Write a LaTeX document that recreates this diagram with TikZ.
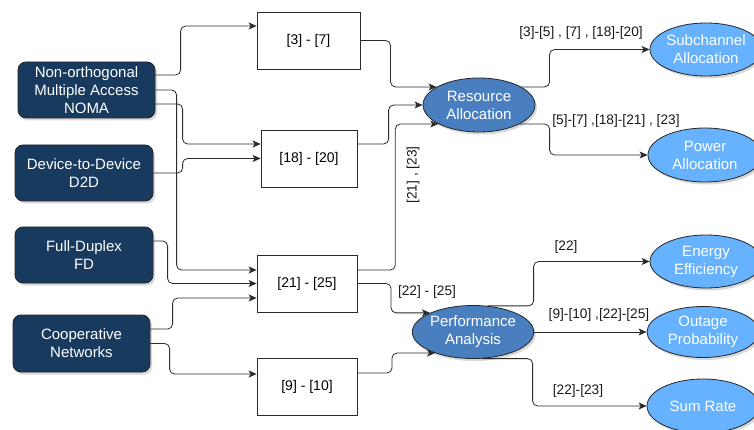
\documentclass[tikz,border=0pt]{standalone}
\usepackage{fontspec}
\setmainfont{Liberation Sans}
\usetikzlibrary{shapes.geometric,arrows.meta,shadows}
\definecolor{navy}{HTML}{173A5E}
\definecolor{midblue}{HTML}{4A7FBF}
\definecolor{lightblue}{HTML}{66B2FF}
\definecolor{linec}{HTML}{2B2B2B}
\begin{document}
\begin{tikzpicture}[x=1pt,y=-1pt,
  darkbox/.style={rectangle, rounded corners=8pt, fill=navy, draw=black!85, line width=0.8pt,
    text=white, align=center, font=\fontsize{15}{18}\selectfont,
    minimum width=137pt, minimum height=56pt, inner sep=0pt,
    drop shadow={shadow xshift=2pt, shadow yshift=-2.5pt, opacity=0.3}},
  refbox/.style={rectangle, draw=linec, line width=0.8pt, fill=white,
    minimum height=57pt, font=\fontsize{14}{17}\selectfont, inner sep=0pt},
  mainell/.style={ellipse, fill=midblue, draw=black!85, line width=0.8pt, text=white,
    align=center, font=\fontsize{15}{18}\selectfont, inner sep=0pt,
    drop shadow={shadow xshift=2pt, shadow yshift=-2.5pt, opacity=0.3}},
  resell/.style={ellipse, fill=lightblue, draw=black!85, line width=0.8pt, text=white,
    align=center, font=\fontsize{15}{18}\selectfont, inner sep=0pt,
    minimum width=112pt, minimum height=53pt,
    drop shadow={shadow xshift=2pt, shadow yshift=-2.5pt, opacity=0.3}},
  arr/.style={draw=linec, line width=0.8pt, rounded corners=5pt, -{Stealth[length=8pt,width=7pt,inset=2pt]}},
  lbl/.style={font=\fontsize{13.7}{16}\selectfont, text=black!90, inner sep=0pt}
]
\useasboundingbox (0,0) rectangle (754,430);
\fill[white] (0,0) rectangle (754,430);

% left technologies
\node[darkbox, minimum width=137pt] (noma) at (86.5,90) {Non-orthogonal\\Multiple Access\\NOMA};
\node[darkbox, minimum width=138pt] (d2d) at (84,173) {Device-to-Device\\D2D};
\node[darkbox, minimum width=138pt] (fd) at (84,255) {Full-Duplex\\FD};
\node[darkbox, minimum width=137pt, minimum height=57pt] (coop) at (81.5,343.5) {Cooperative\\Networks};

% reference boxes
\node[refbox, minimum width=103pt] (r37) at (308.5,40.5) {[3] - [7]};
\node[refbox, minimum width=96pt] (r1820) at (309,158.5) {[18] - [20]};
\node[refbox, minimum width=100pt] (r2125) at (307,283.5) {[21] - [25]};
\node[refbox, minimum width=100pt] (r910) at (307,386.5) {[9] - [10]};

% middle ellipses
\node[mainell, minimum width=112pt, minimum height=54pt] (ra) at (479,105) {Resource\\Allocation};
\node[mainell, minimum width=110pt, minimum height=53pt] (pa) at (473,332) {Performance\\Analysis};

% right ellipses
\node[resell] (sa) at (706,49.5) {Subchannel\\Allocation};
\node[resell, minimum width=114pt, minimum height=54pt] (pw) at (705,155) {Power\\Allocation};
\node[resell] (ee) at (706,261.5) {Energy\\Efficiency};
\node[resell, minimum height=51pt] (op) at (703,332) {Outage\\Probability};
\node[resell, minimum height=54pt] (sr) at (703,406) {Sum Rate};

% connectors: technologies -> reference boxes
\draw[arr] ([yshift=15pt]noma.east) -| ([xshift=-76pt,yshift=14.5pt]r37.west) -- ([yshift=14.5pt]r37.west);
\draw[arr] ([yshift=-14pt]noma.east) -| ([xshift=-78pt,yshift=14.5pt]r1820.west) -- ([yshift=14.5pt]r1820.west);
\draw[arr] (d2d.east) -| ([xshift=-78pt]r1820.west) -- (r1820.west);
\draw[arr] (noma.east) -| ([xshift=-80pt,yshift=13.5pt]r2125.west) -- ([yshift=13.5pt]r2125.west);
\draw[arr] ([yshift=14pt]fd.east) -| ([xshift=-89pt]r2125.west) -- (r2125.west);
\draw[arr] ([yshift=14.5pt]coop.east) -| ([xshift=-84pt,yshift=-14.5pt]r2125.west) -- ([yshift=-14.5pt]r2125.west);
\draw[arr] (coop.east) -| ([xshift=-87pt,yshift=12.5pt]r910.west) -- ([yshift=12.5pt]r910.west);

% reference boxes -> middle ellipses
\draw[arr] (r37.east) -| ([xshift=-46pt]ra.157) -- (ra.157);
\draw[arr] ([yshift=14.5pt]r1820.east) -| ([xshift=-34pt]ra.west) -- (ra.west);
\draw[arr] ([yshift=13.5pt]r2125.east) -| ([xshift=-43pt]ra.205) -- (ra.205);
\draw[arr] (r2125.east) -| ([xshift=-39pt]pa.156) -- (pa.156);
\draw[arr] ([yshift=13.5pt]r910.east) -| ([xshift=-43pt]pa.209) -- (pa.209);

% middle -> right
\draw[arr] (ra.23) -| ([xshift=-100pt]sa.west) -- (sa.west);
\draw[arr] (ra.-25) -| ([xshift=-98pt]pw.west) -- (pw.west);
\draw[arr] (pa.61) -| ([xshift=-116pt]ee.west) -- (ee.west);
\draw[arr] (pa.east) -- (op.west);
\draw[arr] (pa.-72) -| ([xshift=-114pt]sr.west) -- (sr.west);

% labels
\node[lbl] (l1) at (581,33) {[3]-[5] , [7] , [18]-[20]};
\node[lbl] (l2) at (616,121) {[5]-[7] ,[18]-[21] , [23]};
\node[lbl, rotate=90] (l3) at (413,175) {[21] , [23]};
\node[lbl] (l4) at (427,292) {[22] - [25]};
\node[lbl] (l5) at (566,247) {[22]};
\node[lbl] (l6) at (599,315) {[9]-[10] ,[22]-[25]};
\node[lbl] (l7) at (578,391) {[22]-[23]};
\end{tikzpicture}
\end{document}
